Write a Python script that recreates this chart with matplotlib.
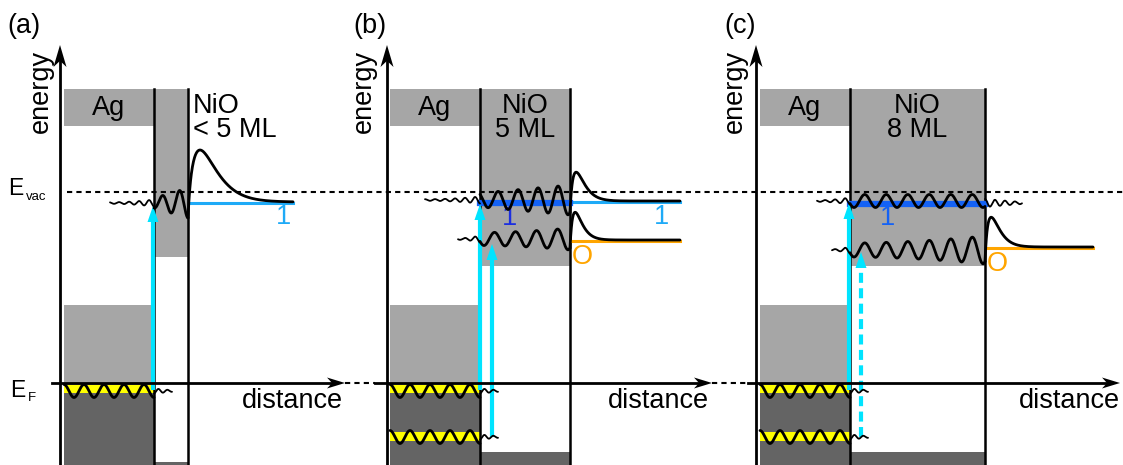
import numpy as np
import matplotlib.pyplot as plt
from matplotlib.patches import Rectangle, Polygon

plt.rcParams['font.family'] = ['Liberation Sans', 'DejaVu Sans']

# layout of the three panels (diagram units, y grows downward)
panel_tags = ['(a)', '(b)', '(c)']
tag_x = [24, 370, 740]
energy_x = [60, 387, 756]
energy_label_x = [41, 364, 735]
ag_left = [64, 390, 760]
nio_left = [154, 480, 850]
nio_right = [188, 570, 985]
nio_gap_bottom = [257, 266, 266]
nio_floor = [462, 452, 452]
nio_labels = ['NiO\n< 5 ML', 'NiO\n5 ML', 'NiO\n8 ML']
distance_x = [242, 608, 1019]
ef_start = [52, 375, 748]
ef_end = [345, 712, 1120]

# energies
E_VAC = 192
E_F = 383
ag_top_band = (89, 126)
ag_sp_band = (305, 385)
ag_d_top = 393
yellow_bands = [(385, 393), (432, 441)]
ag_state_y = [391, 437]
n_ag_states = [1, 2, 2]

# image-potential state n=1 per panel
state1_y = [203, 200, 201]
state1_amp = [(5, 15), (7, 15), (6.5, 6.5)]
state1_period = [17, 20, 21.5]
state1_tail_x = [110, 425, 817]
state1_bump = [(202, 52, 12), (201, 29, 6), None]
state1_end = [293, 680, 1022]
state1_level = [203, 202, 203]
state1_label_x = [283, 662, None]
state1_inside = [False, True, True]

# oxygen-derived state
ox_panels = [1, 2]
ox_y = [239, 250]
ox_amp = [(6.5, 11), (7, 14)]
ox_period = [21, 21.5]
ox_tail_x = [458, 832]
ox_bump = [(240, 28, 5), (247, 30, 6)]
ox_end = [680, 1093]
ox_level = [241, 248]

# excitation arrows: (x, start, tip, dashed)
arrow_x = [153, 480, 492, 849, 861]
arrow_from = [390, 390, 437, 390, 437]
arrow_to = [206, 204, 244, 203, 252]
arrow_dashed = [False, False, False, False, True]

LIGHT = '#a6a6a6'
DARK = '#646464'
CYAN = '#00e4ff'
SKY = '#1eaaf7'
BLUE = '#1462f5'
ORANGE = '#ffa500'
FS = 19.5

fig = plt.figure(figsize=(11.23, 4.65), dpi=100)
ax = fig.add_axes([0, 0, 1, 1])
ax.set_xlim(0, 1123)
ax.set_ylim(465, 0)
ax.axis('off')


def stealth(tip, direction, length, half, color, z=9):
    tx, ty = tip
    dx, dy = direction
    px, py = -dy, dx
    bx, by = tx - dx * length, ty - dy * length
    nx, ny = tx - dx * length * 0.72, ty - dy * length * 0.72
    pts = [(tx, ty), (bx + px * half, by + py * half), (nx, ny),
           (bx - px * half, by - py * half)]
    ax.add_patch(Polygon(pts, closed=True, color=color, lw=0, zorder=z))


def wiggle(x0, x1, yc, period, a0, a1, x_ref, power=1.0):
    x = np.linspace(x0, x1, 400)
    s = (x - x0) / (x1 - x0)
    amp = a0 + (a1 - a0) * s ** power
    return x, yc + amp * np.cos(2 * np.pi * (x - x_ref) / period)


def bump(x0, x1, base, start, height, tp, td=1.5):
    t = np.linspace(0, x1 - x0, 500)
    y = base - height * (t / tp) * np.exp(1 - t / tp) + (start - base) * np.exp(-t / td)
    return x0 + t, y


def line(x, y, lw=2.0, z=6):
    ax.plot(x, y, color='black', lw=lw, zorder=z, solid_capstyle='round')


for i in range(3):
    al, nl, nr = ag_left[i], nio_left[i], nio_right[i]
    # Ag bands
    ax.add_patch(Rectangle((al, ag_top_band[0]), nl - al, ag_top_band[1] - ag_top_band[0],
                           color=LIGHT, lw=0, zorder=1))
    ax.add_patch(Rectangle((al, ag_sp_band[0]), nl - al, ag_sp_band[1] - ag_sp_band[0],
                           color=LIGHT, lw=0, zorder=1))
    ax.add_patch(Rectangle((al, ag_d_top), nl - al, 465 - ag_d_top, color=DARK, lw=0, zorder=1))
    for k in range(n_ag_states[i]):
        y0, y1 = yellow_bands[k]
        ax.add_patch(Rectangle((al, y0), nl - al, y1 - y0, color='#ffff00', lw=0, zorder=2))
        yc = ag_state_y[k]
        x = np.linspace(al, nl, 300)
        line(x, yc - 6.5 * np.cos(2 * np.pi * (x - al) / 20))
        xt, yt = wiggle(nl, nl + 18, yc, 9, 2.5, 0.8, nl)
        line(xt, yt, lw=1.3)
    # NiO gap
    ax.add_patch(Rectangle((nl, ag_top_band[0]), nr - nl, nio_gap_bottom[i] - ag_top_band[0],
                           color=LIGHT, lw=0, zorder=1))
    ax.add_patch(Rectangle((nl, nio_floor[i]), nr - nl, 465 - nio_floor[i],
                           color=DARK, lw=0, zorder=1))
    for xb in (nl, nr):
        ax.plot([xb, xb], [ag_top_band[0], 465], color='black', lw=1.8, zorder=4)

    # texts
    ax.text(tag_x[i], 26, panel_tags[i], fontsize=FS, ha='center', va='center')
    ax.text(energy_label_x[i], 91, 'energy', fontsize=FS, rotation=90,
            ha='center', va='center')
    ax.text((al + nl) / 2, 108, 'Ag', fontsize=FS, ha='center', va='center', zorder=5)
    if i == 0:
        ax.text(193, 118, nio_labels[i], fontsize=FS, ha='left', va='center',
                linespacing=0.92, zorder=5)
    else:
        ax.text((nl + nr) / 2, 118, nio_labels[i], fontsize=FS, ha='center',
                va='center', linespacing=0.92, zorder=5)
    ax.text(distance_x[i], 401, 'distance', fontsize=FS, ha='left', va='center')

    # axes
    ax.plot([energy_x[i], energy_x[i]], [465, 58], color='black', lw=2, zorder=8)
    stealth((energy_x[i], 45), (0, -1), 22, 6.5, 'black')
    ax.plot([ef_start[i], ef_end[i] - 10], [E_F, E_F], color='black', lw=2, zorder=8)
    stealth((ef_end[i], E_F), (1, 0), 18, 5.5, 'black')
    if i < 2:
        ax.plot([ef_end[i], ef_start[i + 1]], [E_F, E_F], color='black', lw=1.5,
                dashes=(2.5, 2), zorder=8)

    # n=1 state
    yc = state1_y[i]
    a0, a1 = state1_amp[i]
    xt, yt = wiggle(state1_tail_x[i], nl, yc, 10, 0.8, 3.5, nl, power=2)
    line(xt, yt, lw=1.3)
    x_end = nr - 2 if i > 0 else nr
    xw, yw = wiggle(nl, nr, yc, state1_period[i], a0, a1, x_end)
    line(xw, yw)
    if state1_bump[i] is not None:
        base, h, tp = state1_bump[i]
        xb, yb = bump(nr, state1_end[i], base, yw[-1], h, tp)
        line(xb, yb)
        ax.plot([nr + 2, state1_end[i]], [state1_level[i]] * 2, color=SKY, lw=2.2, zorder=5)
        ax.text(state1_label_x[i], 217, '1', fontsize=FS, color=SKY, ha='center',
                va='center')
    else:
        xr, yr = wiggle(nr, state1_end[i], yc + 2, 10, 4, 1, nr + 5)
        line(xr, yr, lw=1.3)
    if state1_inside[i]:
        ax.plot([nl, nr], [state1_level[i] + 1] * 2, color=BLUE, lw=4.5, zorder=5)
        ax.text(nl + 30 if i == 1 else nl + 38, 218, '1', fontsize=FS,
                color='#1c2fe0' if i == 1 else BLUE, ha='center', va='center')

# oxygen states
for j, i in enumerate(ox_panels):
    nl, nr = nio_left[i], nio_right[i]
    yc = ox_y[j]
    a0, a1 = ox_amp[j]
    xt, yt = wiggle(ox_tail_x[j], nl, yc, 10, 0.8, 3.5, nl, power=2)
    line(xt, yt, lw=1.3)
    xw, yw = wiggle(nl, nr, yc, ox_period[j], a0, a1, nr - 2, power=1.8)
    line(xw, yw)
    base, h, tp = ox_bump[j]
    xb, yb = bump(nr, ox_end[j], base, yw[-1], h, tp)
    line(xb, yb)
    ax.plot([nr + 2, ox_end[j]], [ox_level[j]] * 2, color=ORANGE, lw=2.2, zorder=5)
    ax.text(nr + 12, ox_level[j] + 16, 'O', fontsize=FS, color=ORANGE,
            ha='center', va='center')

# vacuum level
ax.plot([67, 1123], [E_VAC, E_VAC], color='black', lw=1.5, dashes=(2.5, 2), zorder=3)

# excitation arrows
for x, y0, y1, dashed in zip(arrow_x, arrow_from, arrow_to, arrow_dashed):
    kw = dict(dashes=(2.4, 1.3)) if dashed else {}
    ax.plot([x, x], [y0, y1 + 12], color=CYAN, lw=3, zorder=5.5,
            solid_capstyle='butt', **kw)
    ax.add_patch(Polygon([(x, y1), (x - 5.5, y1 + 16), (x + 5.5, y1 + 16)],
                         closed=True, color=CYAN, lw=0, zorder=5.5))

# level labels on the left
ax.text(8, 195, 'E', fontsize=16.5, ha='left', va='baseline')
ax.text(26, 200, 'vac', fontsize=9.5, ha='left', va='baseline')
ax.text(10, 397, 'E', fontsize=16.5, ha='left', va='baseline')
ax.text(28, 401, 'F', fontsize=9.5, ha='left', va='baseline')

fig.savefig('out.png', dpi=100)
